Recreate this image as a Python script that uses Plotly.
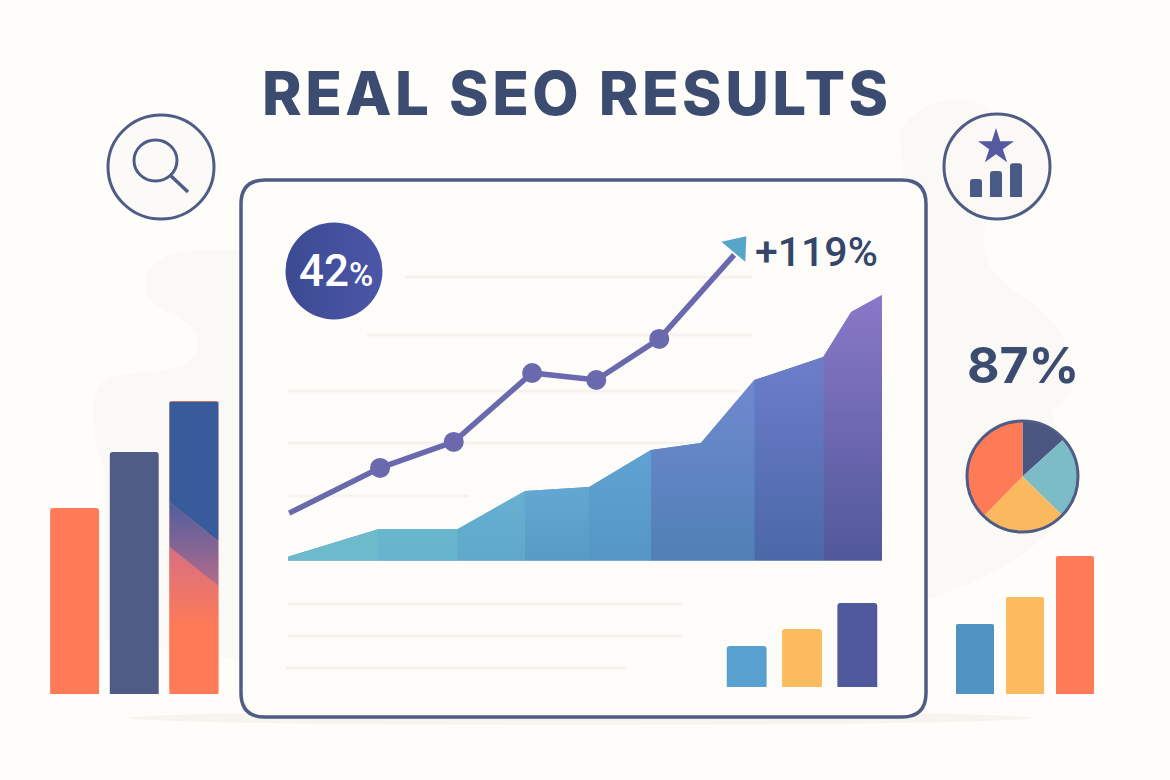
import plotly.graph_objects as go

W, H = 1170, 780
NAVY = "#4F5C86"
GRID = "#F6F3EF"

# ---- data ----
area_x = [0, 15.3, 28.6, 39.9, 50.7, 61.1, 69.5, 78.5, 90.1, 94.8, 100]
area_y = [1.5, 12.2, 12.2, 26.8, 28.3, 42.6, 45.3, 69.5, 78.3, 95.7, 102.2]
line_x = [0.2, 15.5, 27.9, 41.1, 51.9, 62.5, 75.1]
line_y = [18.3, 35.7, 45.7, 72.2, 69.5, 85.3, 117.6]
arrow_x = [75.7]
arrow_y = [120.8]
left_cats = ["A", "B", "C"]
left_vals = [62, 80.7, 97.7]
right_cats = ["A", "B", "C"]
right_vals = [46.7, 64.7, 92]
small_cats = ["A", "B", "C"]
small_vals = [45.6, 64.4, 93.3]
icon_cats = ["A", "B", "C"]
icon_vals = [50, 72, 94]
pie_labels = ["Navy", "Teal", "Yellow", "Orange"]
pie_vals = [13.3, 24, 25, 37.7]
bar3_blue_y = [97.4, 97.4, 51, 64]
bar3_mid_y = [64, 51, 36, 49]
bar3_low_y = [49, 36, 0.8, 0.8]
title_text = "REAL SEO RESULTS"

# ---- helpers ----
def dx(a, b): return [a / W, b / W]
def dy(top, bottom): return [1 - bottom / H, 1 - top / H]

fig = go.Figure()
hidden = dict(visible=False, fixedrange=True)
layout_axes = dict(
    xaxis=dict(domain=[0, 1], range=[0, W], **hidden),
    yaxis=dict(domain=[0, 1], range=[H, 0], **hidden),
    xaxis2=dict(domain=dx(288, 882), range=[0, 100], anchor="y2", **hidden),
    yaxis2=dict(domain=dy(222.7, 560.7), range=[0, 130], anchor="x2", **hidden),
    xaxis3=dict(domain=dx(44.75, 223.75), range=[-0.5, 2.5], anchor="y3", **hidden),
    yaxis3=dict(domain=dy(394, 694), range=[0, 100], anchor="x3", **hidden),
    xaxis4=dict(domain=dx(950, 1100), range=[-0.5, 2.5], anchor="y4", **hidden),
    yaxis4=dict(domain=dy(544, 694), range=[0, 100], anchor="x4", **hidden),
    xaxis5=dict(domain=dx(719, 885), range=[-0.5, 2.5], anchor="y5", **hidden),
    yaxis5=dict(domain=dy(597, 687), range=[0, 100], anchor="x5", **hidden),
    xaxis6=dict(domain=dx(966, 1026), range=[-0.5, 2.5], anchor="y6", **hidden),
    yaxis6=dict(domain=dy(161, 197), range=[0, 100], anchor="x6", **hidden),
)

# underlay that closes the hairline seams between the bands
fig.add_trace(go.Scatter(x=area_x, y=area_y, xaxis="x2", yaxis="y2", mode="lines", line=dict(width=0),
                         fill="tozeroy", fillcolor="#5F92C6", hoverinfo="skip", showlegend=False))
# area, one band per segment, each with its own vertical gradient
band_breaks = [0, 1, 2, 3, 4, 5, 7, 8, 10]
band_cols = [
    ("#6CBACB", "#6CBACB"),
    ("#64B2CC", "#6AB8CD"),
    ("#5FA8CC", "#66B0D2"),
    ("#559BC6", "#62A8D3"),
    ("#5596C4", "#5FA3D2"),
    ("#5080B5", "#7089D0"),
    ("#4A68A8", "#6D7DCB"),
    ("#50589A", "#8A78C8"),
]
for i in range(len(band_breaks) - 1):
    a, b = band_breaks[i], band_breaks[i + 1]
    lo, hi = band_cols[i]
    fig.add_trace(go.Scatter(
        x=area_x[a:b + 1], y=area_y[a:b + 1], xaxis="x2", yaxis="y2",
        mode="lines", line=dict(width=0), fill="tozeroy",
        fillgradient=dict(type="vertical", start=0, stop=max(area_y[a:b + 1]),
                          colorscale=[[0, lo], [1, hi]]),
        hoverinfo="skip", showlegend=False))

# trend line
fig.add_trace(go.Scatter(x=line_x, y=line_y, xaxis="x2", yaxis="y2", mode="lines",
                         line=dict(color="#6A69AE", width=5.5), hoverinfo="skip", showlegend=False))
fig.add_trace(go.Scatter(x=line_x[1:-1], y=line_y[1:-1], xaxis="x2", yaxis="y2", mode="markers",
                         marker=dict(color="#6A69AE", size=20), hoverinfo="skip", showlegend=False))
fig.add_trace(go.Scatter(x=arrow_x, y=arrow_y, xaxis="x2", yaxis="y2", mode="markers",
                         marker=dict(symbol="triangle-up", size=27, angle=40, color="#55A6C8"),
                         hoverinfo="skip", showlegend=False))

# left bars
fig.add_trace(go.Bar(x=[0, 1, 2], y=left_vals, width=0.82, xaxis="x3", yaxis="y3",
                     marker=dict(color=["#FF7B57", "#4F5C86", "#FF7B57"], cornerradius=3, line_width=0),
                     hoverinfo="skip", showlegend=False))
L, R = 1.59, 2.41
fig.add_trace(go.Scatter(x=[L, R, R, L, L], y=bar3_blue_y + bar3_blue_y[:1], xaxis="x3", yaxis="y3",
                         mode="lines", line=dict(width=0), fill="toself", fillcolor="#375B9B",
                         hoverinfo="skip", showlegend=False))
fig.add_trace(go.Scatter(x=[L, R, R, L, L], y=bar3_mid_y + bar3_mid_y[:1], xaxis="x3", yaxis="y3",
                         mode="lines", line=dict(width=0), fill="toself",
                         fillgradient=dict(type="vertical", start=36, stop=64,
                                           colorscale=[[0, "#B46B8C"], [1, "#4E5E9E"]]),
                         hoverinfo="skip", showlegend=False))
fig.add_trace(go.Scatter(x=[L, R, R, L, L], y=bar3_low_y + bar3_low_y[:1], xaxis="x3", yaxis="y3",
                         mode="lines", line=dict(width=0), fill="toself",
                         fillgradient=dict(type="vertical", start=22, stop=49,
                                           colorscale=[[0, "#FF7B57"], [1, "#D66F82"]]),
                         hoverinfo="skip", showlegend=False))

# right bars
fig.add_trace(go.Bar(x=right_cats, y=right_vals, width=0.76, xaxis="x4", yaxis="y4",
                     marker=dict(color=["#4F93C0", "#FDBB5F", "#FF7B57"], cornerradius=2, line_width=0),
                     hoverinfo="skip", showlegend=False))
# small card bars
fig.add_trace(go.Bar(x=small_cats, y=small_vals, width=0.72, xaxis="x5", yaxis="y5",
                     marker=dict(color=["#58A0CF", "#FDBB5F", "#50589E"], cornerradius=3, line_width=0),
                     hoverinfo="skip", showlegend=False))
# icon bars
fig.add_trace(go.Bar(x=icon_cats, y=icon_vals, width=0.6, xaxis="x6", yaxis="y6",
                     marker=dict(color="#4A5A86", cornerradius=3, line_width=0),
                     hoverinfo="skip", showlegend=False))
# pie
fig.add_trace(go.Pie(labels=pie_labels, values=pie_vals, sort=False, direction="clockwise", rotation=0,
                     domain=dict(x=dx(967, 1078), y=dy(421, 532)),
                     marker=dict(colors=["#4A5680", "#7BBCC6", "#FBB95F", "#FF7B57"], line=dict(width=0)),
                     textinfo="none", hoverinfo="skip", showlegend=False))
# star icon and badge
fig.add_trace(go.Scatter(x=[996], y=[147], mode="markers",
                         marker=dict(symbol="star", size=27, color="#5459A0"),
                         hoverinfo="skip", showlegend=False))
fig.add_trace(go.Scatter(x=[334], y=[271], mode="markers",
                         marker=dict(size=97, color="#3B4A92", line_width=0,
                                     gradient=dict(type="horizontal", color="#4C56A8")),
                         hoverinfo="skip", showlegend=False))

def rrect(x0, y0, x1, y1, r):
    return (f"M{x0+r},{y0} L{x1-r},{y0} Q{x1},{y0} {x1},{y0+r} L{x1},{y1-r} Q{x1},{y1} {x1-r},{y1} "
            f"L{x0+r},{y1} Q{x0},{y1} {x0},{y1-r} L{x0},{y0+r} Q{x0},{y0} {x0+r},{y0} Z")

BLOB = "#FBF9F5"
shapes = [
    # background blobs
    dict(type="path", layer="below", line_width=0, fillcolor=BLOB,
         path="M240,250 C200,248 150,248 145,282 C142,318 205,310 197,350 C192,378 130,368 107,378 "
              "C85,392 92,440 105,470 L105,640 L240,660 Z"),
    dict(type="path", layer="below", line_width=0, fillcolor=BLOB,
         path="M900,130 C920,95 985,85 1000,125 L985,230 C975,290 1040,290 1063,337 C1085,385 1070,405 1050,410 "
              "L1075,470 C1070,540 1000,575 926,600 Z"),
    dict(type="circle", layer="below", line_width=0, fillcolor="#F7F4EF", x0=130, x1=1030, y0=711, y1=725),
    # card
    dict(type="path", layer="below", line=dict(color=NAVY, width=3.5), fillcolor="#FEFCF9",
         path=rrect(241, 180, 926, 717, 24)),
    # icon circles
    dict(type="circle", layer="below", line=dict(color=NAVY, width=3), fillcolor="#FCFAF7", x0=108, x1=214, y0=115, y1=219),
    dict(type="circle", layer="below", line=dict(color=NAVY, width=3), fillcolor="#FBF8F5", x0=944, x1=1050, y0=114, y1=219),
    # magnifier
    dict(type="circle", layer="below", line=dict(color=NAVY, width=3), fillcolor="rgba(0,0,0,0)", x0=134, x1=177, y0=140, y1=181),
    dict(type="line", layer="below", line=dict(color=NAVY, width=3.5), x0=171, y0=176, x1=188, y1=192),
    # pie outline
    dict(type="circle", layer="above", line=dict(color=NAVY, width=3), fillcolor="rgba(0,0,0,0)", x0=967, x1=1078, y0=421, y1=532),
]
for x0, x1, y in [(405, 752, 277), (367, 752, 335), (288, 740, 391), (288, 705, 443), (288, 470, 496),
                  (288, 683, 604), (288, 683, 636), (286, 627, 668)]:
    shapes.append(dict(type="line", layer="below", line=dict(color=GRID, width=3), x0=x0, x1=x1, y0=y, y1=y))
for s in shapes:
    s.update(xref="x", yref="y")

def txt(x, y, t, size, color, weight=700, family="Inter"):
    return dict(x=x, y=y, xref="x", yref="y", text=t, showarrow=False, xanchor="center", yanchor="middle",
                font=dict(family=family, size=size, color=color, weight=weight))

annotations = [
    txt(577, 93, title_text, 60, "#3C4C70", 800),
    txt(336, 271, '42<span style="font-size:33px">%</span>', 44, "#FFFFFF", 500, "Roboto"),
    txt(816, 252, "+119%", 41, "#34466A", 500, "Roboto"),
    txt(1023, 365, "87%", 50, "#3C4C70", 700),
]

fig.update_layout(width=W, height=H, margin=dict(l=0, r=0, t=0, b=0), autosize=False,
                  paper_bgcolor="#FFFDF9", plot_bgcolor="rgba(0,0,0,0)", showlegend=False,
                  hovermode=False, shapes=shapes, annotations=annotations, **layout_axes)

fig.write_html("out.html", config=dict(displayModeBar=False),
               post_script="document.body.style.margin='0';document.body.style.overflow='hidden';"
                           "var t=document.querySelector('.annotation-text');if(t){t.style.letterSpacing='3.5px';}")
